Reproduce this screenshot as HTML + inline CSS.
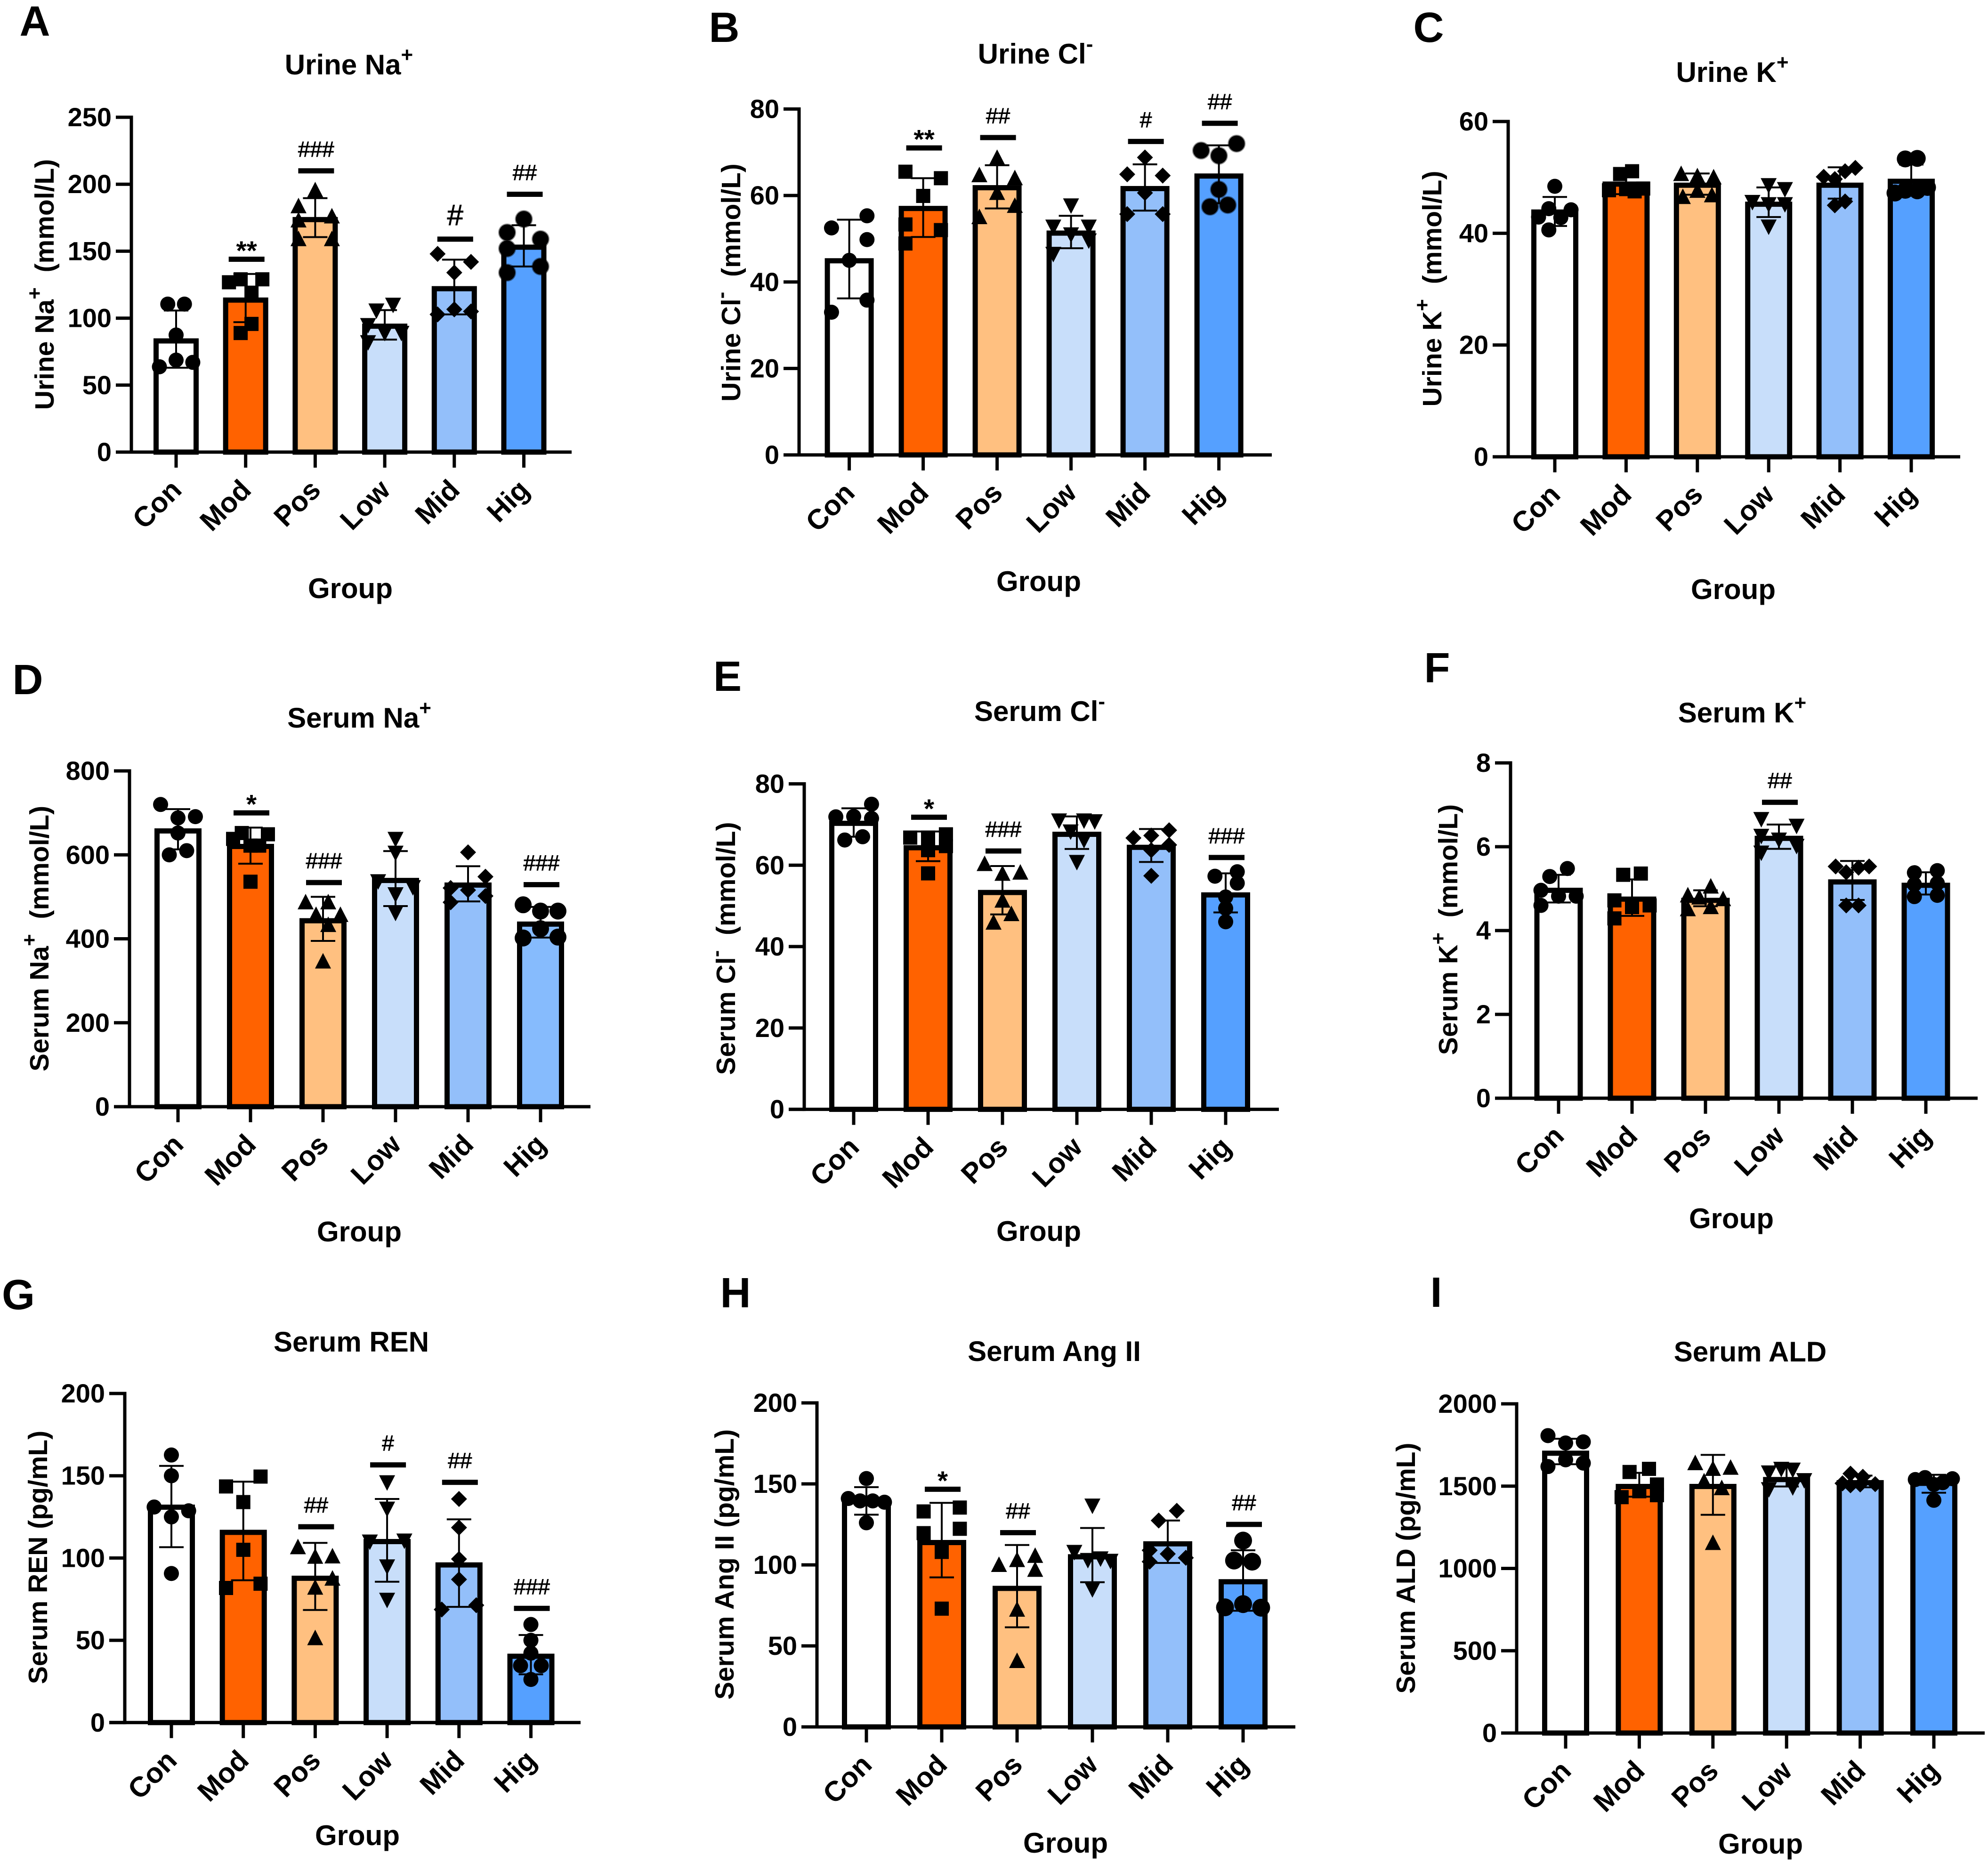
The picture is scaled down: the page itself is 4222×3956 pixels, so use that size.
<!DOCTYPE html>
<html lang="en">
<head>
<meta charset="utf-8">
<title>Urine and serum electrolyte and RAAS panels</title>
<style>
html,body{margin:0;padding:0;background:#fff}
svg{display:block}
text{font-family:"Liberation Sans",Arial,sans-serif;fill:#000;white-space:pre}
</style>
</head>
<body>
<svg id="figure" xmlns="http://www.w3.org/2000/svg" width="4222" height="3956" viewBox="0 0 4222 3956"></svg>
<script>
const categories = ['Con','Mod','Pos','Low','Mid','Hig'];

const urineNaTicks = [0,50,100,150,200,250];
const urineNaMeans = [83,113.5,173.6,94,122,153];
const urineNaUpper = [105.7,133,189.6,106,143.7,169.4];
const urineNaLower = [63,97,160.5,84,102.8,138.6];
const urineNaPoints = [[110.5,110.5,87.4,63.7,68.7,67],[126.8,129,129,119,95.7,88.9],[195.5,183.6,173,176,159,159],[105.7,110,94.8,89,89,82],[148,142,134,106.6,102.8,105],[174,164,159,152,134,138.6]];
const urineNaSlots = [[-1,1,0,-2,0,2],[-2,-0.6,2,0.7,0.7,-0.6],[0,-2,-2,2,-2,2],[-1,1,-2,0,2,-2],[-2,2,0,0,-2,2],[0,-2,2,-2,-2,2]];
const urineNaSig = [null,144,210,null,159,192.5];
const urineNaSigLabels = ['','**','###','','#','##'];

const urineClTicks = [0,20,40,60,80];
const urineClMeans = [44.9,57,61.8,51.3,61.6,64.5];
const urineClUpper = [54.4,64,67,55.3,67.2,71.6];
const urineClLower = [36.2,50.4,57,47.8,56.5,58.2];
const urineClPoints = [[52.5,55.3,49.8,45,35.8,33],[65.5,64,59.9,53.3,52,48.9],[68.7,64.7,64,60.6,57.6,55],[57.7,52.8,52.8,51,49.6,46.5],[68.8,64.9,64.6,60.6,55.7,55.7],[70.4,72,69.2,61.4,57.4,57.8]];
const urineClSlots = [[-2,2,2,0,2,-2],[-2,2,0,-2,2,-2],[0,-2,2,0,2,-2],[0,-2,2,0,2,-2],[0,-2,2,0,-2,2],[-2,2,0,0,-1,1]];
const urineClSig = [null,71,73.4,null,72.5,76.7];
const urineClSigLabels = ['','**','##','','#','##'];

const urineKTicks = [0,20,40,60];
const urineKMeans = [43.8,48.8,48.6,45.2,48.6,49.3];
const urineKUpper = [46.5,50.5,50.7,48.2,51.8,52.3];
const urineKLower = [41.3,47,46.9,42.9,46.2,47];
const urineKPoints = [[48.4,44.4,44.2,42.9,42.8,40.6],[50.6,51.1,47.7,47.9,48,47.5],[50.6,50.2,50,47.6,46.5,46.8],[48.6,47.9,45.6,45.2,45.2,41.2],[50.1,49.7,51.1,51.7,45,45.7],[53.3,53.4,47.2,48.2,47.7,47.6]];
const urineKSlots = [[0,-0.7,1.9,-1.9,0.7,-0.7],[-0.7,0.7,-2,0,2,1],[-1.9,0,1.9,0,-1.7,1.7],[0,1.9,-1.9,0,1.9,0],[-1.9,-0.6,0.6,1.8,-0.6,0.6],[-0.7,0.7,-1.9,1.9,-0.7,0.7]];

const serumNaTicks = [0,200,400,600,800];
const serumNaMeans = [657,620,443,539,528,435];
const serumNaUpper = [709,665,500,609,573,476];
const serumNaLower = [613,579,395,478,489,403];
const serumNaPoints = [[720,691,688,652,600,610],[638,652,649,622,622,536],[487,487,457,457,433,346],[638,605,537,523,506,462],[606,548,521,516,502,487],[481,466,466,424,402,404]];
const serumNaSlots = [[-2,2,0,0,-1,1],[-2,-1,2,0,1,0],[-2,0.6,-0.8,2,0.6,0],[0,0,-2,2,0,0],[0,2,-2,0,2,-2],[-2,0,2,0,-2,2]];
const serumNaSig = [null,700,534,null,null,529];
const serumNaSigLabels = ['','*','###','','','###'];

const serumClTicks = [0,20,40,60,80];
const serumClMeans = [70.3,64.3,53.3,67.6,64.4,52.7];
const serumClUpper = [74,68.3,59.8,72,68.9,58];
const serumClLower = [67,61,47.9,64,60.8,48.4];
const serumClPoints = [[75,71.9,72,71.5,66.2,67],[66.8,66.8,67.6,63.7,64.7,58],[60.3,58.2,57.9,51.3,48,45.9],[71,71,70.8,68.3,66.2,60.8],[68.6,66.7,67.3,65,63.7,57.4],[57.3,58.4,55.6,52.2,49.4,46.1]];
const serumClSlots = [[2,-2,0,2,-1,1],[-2,0,2,0,2,0],[-2,2,0,0,1,-1],[-2,0.8,2,-0.7,0.8,0],[2,-2,0,2,0,0],[-1.2,1.3,1.3,0,0,0]];
const serumClSig = [null,71.8,63.5,null,null,61.9];
const serumClSigLabels = ['','*','###','','','###'];

const serumKTicks = [0,2,4,6,8];
const serumKMeans = [4.96,4.75,4.72,6.2,5.16,5.08];
const serumKUpper = [5.33,5.22,4.96,6.53,5.66,5.39];
const serumKLower = [4.67,4.35,4.58,5.95,4.73,4.86];
const serumKPoints = [[5.48,5.29,4.96,4.82,4.82,4.6],[5.33,5.36,4.72,4.56,4.6,4.29],[4.84,5.05,4.79,4.75,4.51,4.56],[6.66,6.5,6.26,6.17,6.02,5.86],[5.53,5.53,5.5,5.39,4.6,4.6],[5.38,5.43,5.1,5.13,4.81,4.84]];
const serumKSlots = [[1,-1,-2,0,2,-2],[-1,1,-2,0,2,-2],[-2,0.6,-0.7,2,-2,0.6],[-2,2,-2,0,2,-2],[-1.9,1.9,0.7,-0.7,-0.7,0.7],[-1.3,1.3,-1.3,1.3,-1.3,1.3]];
const serumKSig = [null,null,null,7.06,null,null];
const serumKSigLabels = ['','','','##','',''];

const serumRenTicks = [0,50,100,150,200];
const serumRenMeans = [130.9,115.6,87.7,110,95.8,40.3];
const serumRenUpper = [156,146.4,109.2,135.9,123.5,53.2];
const serumRenLower = [106.6,86.5,68.4,85.6,70.3,29.3];
const serumRenPoints = [[162.6,150,131,128.7,125,90.6],[149.5,143.5,134,105,81.8,84.4],[106.6,101,100.8,87.5,82,51.3],[146,130,110,110.6,94.9,74.6],[135.9,118.5,99.4,87,68.7,71.3],[59.6,50,42.2,34.6,34.6,26.2]];
const serumRenSlots = [[0,0,-2,2,0,0],[2,-2,0,0,-2,2],[-2,2,0,2,0,0],[0,0,-2,2,0,0],[0,0,0,0,-2,2],[0,0,0,-1.2,1.2,0]];
const serumRenSig = [null,null,119,156.6,146,69.4];
const serumRenSigLabels = ['','','##','#','##','###'];

const serumAngTicks = [0,50,100,150,200];
const serumAngMeans = [139.5,113.8,85.5,105,113,89.6];
const serumAngUpper = [148,138.3,112.3,122.8,127.4,109];
const serumAngLower = [131,92.3,61.5,89.3,101.2,71.7];
const serumAngPoints = [[153.3,141,138.7,139.5,139.5,126],[133,135.4,122.3,119.6,108,73],[105.6,103,100,97,72.4,40.7],[136.6,108,103,104,102.5,85],[133.4,127.4,109,106.8,104.4,102],[115,102.7,102,73.8,75.8,73.6]];
const serumAngSlots = [[0,-2,2,-0.7,0.7,0],[-2,2,2,-2,0,0],[2,0,-2,2,0,0],[0,-2,-0.5,0.9,2,0],[1,-1,-2,0,2,-2],[0,-1,1,-2,0,2]];
const serumAngSig = [null,146.7,119.9,null,null,125];
const serumAngSigLabels = ['','*','##','','','##'];

const serumAldTicks = [0,500,1000,1500,2000];
const serumAldMeans = [1700,1498,1498,1540,1521,1517];
const serumAldUpper = [1788,1581,1690,1631,1564,1569];
const serumAldLower = [1633,1436,1326,1498,1493,1460];
const serumAldPoints = [[1807,1769,1762,1619,1660,1640],[1586,1605,1510,1469,1433,1445],[1640,1612,1605,1529,1488,1155],[1583,1605,1600,1536,1493,1481],[1576,1557,1517,1512,1510,1505],[1540,1552,1545,1521,1510,1414]];
const serumAldSlots = [[-2,2,0,-2,0,2],[-1.1,1.1,2,0,-2,2],[-2,2,0,-1,1,0],[-2,-0.6,0.7,2,0.7,-2],[-1.1,0.3,-2,1.7,0,-1.1],[-2.1,-1,2.1,1,0,0]];

const barColors = ['#FFFFFF','#FF6200','#FFC080','#C8DEFA','#93BFFA','#55A0FF'];
const lightHigColors = ['#FFFFFF','#FF6200','#FFC080','#C8DEFA','#93BFFA','#86BBFD'];
const symbolKinds = ['circle','square','up','down','diamond','circle'];

const panels = [
 {key:'urine-na',letter:'A',lx:74,ly:76,title:['Urine Na','+',''],tx:741,ty:158,yTitle:['Urine Na','+','  (mmol/L)'],ytx:114,yty:604,gx:744,gy:1270,ax:279,y0:960,top:249,first:374,step:147.7,barW:96,end:1214,max:250,ticks:urineNaTicks,means:urineNaMeans,upper:urineNaUpper,lower:urineNaLower,points:urineNaPoints,slots:urineNaSlots,sig:urineNaSig,sigLabels:urineNaSigLabels,colors:barColors,higR:17,halo:true,singleHash:62},
 {key:'urine-cl',letter:'B',lx:1538,ly:89,title:['Urine Cl','-',''],tx:2199,ty:135,yTitle:['Urine Cl','-','  (mmol/L)'],ytx:1572,yty:600,gx:2206,gy:1255,ax:1697,y0:966,top:231.5,first:1803.6,step:157,barW:104,end:2701,max:80,ticks:urineClTicks,means:urineClMeans,upper:urineClUpper,lower:urineClLower,points:urineClPoints,slots:urineClSlots,sig:urineClSig,sigLabels:urineClSigLabels,colors:barColors,higR:17,halo:true,singleHash:46},
 {key:'urine-k',letter:'C',lx:3034,ly:89,title:['Urine K','+',''],tx:3679,ty:174,yTitle:['Urine K','+','  (mmol/L)'],ytx:3061,yty:613,gx:3681,gy:1272,ax:3203,y0:970,top:258,first:3302,step:151.4,barW:100,end:4163,max:60,ticks:urineKTicks,means:urineKMeans,upper:urineKUpper,lower:urineKLower,points:urineKPoints,slots:urineKSlots,sig:null,sigLabels:null,colors:barColors,higR:18,halo:false,singleHash:46},
 {key:'serum-na',letter:'D',lx:59,ly:1474,title:['Serum Na','+',''],tx:763,ty:1545,yTitle:['Serum Na','+','  (mmol/L)'],ytx:103,yty:1993,gx:763,gy:2636,ax:275,y0:2350,top:1637,first:378,step:154,barW:100,end:1254,max:800,ticks:serumNaTicks,means:serumNaMeans,upper:serumNaUpper,lower:serumNaLower,points:serumNaPoints,slots:serumNaSlots,sig:serumNaSig,sigLabels:serumNaSigLabels,colors:lightHigColors,higR:18,halo:false,singleHash:46},
 {key:'serum-cl',letter:'E',lx:1545,ly:1467,title:['Serum Cl','-',''],tx:2208,ty:1531,yTitle:['Serum Cl','-','  (mmol/L)'],ytx:1561,yty:2014,gx:2206,gy:2635,ax:1708,y0:2355.6,top:1664.5,first:1813,step:158,barW:104,end:2716,max:80,ticks:serumClTicks,means:serumClMeans,upper:serumClUpper,lower:serumClLower,points:serumClPoints,slots:serumClSlots,sig:serumClSig,sigLabels:serumClSigLabels,colors:barColors,higR:16,halo:false,singleHash:46},
 {key:'serum-k',letter:'F',lx:3052,ly:1449,title:['Serum K','+',''],tx:3700,ty:1534,yTitle:['Serum K','+','  (mmol/L)'],ytx:3095,yty:1974,gx:3677,gy:2608,ax:3208,y0:2332,top:1620,first:3310,step:156,barW:103,end:4200,max:8,ticks:serumKTicks,means:serumKMeans,upper:serumKUpper,lower:serumKLower,points:serumKPoints,slots:serumKSlots,sig:serumKSig,sigLabels:serumKSigLabels,colors:barColors,higR:16,halo:false,singleHash:46},
 {key:'serum-ren',letter:'G',lx:39,ly:2780,title:['Serum REN','',''],tx:746,ty:2870,yTitle:['Serum REN (pg/mL)','',''],ytx:100,yty:3307,gx:759,gy:3918,ax:265,y0:3657.8,top:2959,first:364,step:152.7,barW:100,end:1233,max:200,ticks:serumRenTicks,means:serumRenMeans,upper:serumRenUpper,lower:serumRenLower,points:serumRenPoints,slots:serumRenSlots,sig:serumRenSig,sigLabels:serumRenSigLabels,colors:barColors,higR:16,halo:false,singleHash:46},
 {key:'serum-ang',letter:'H',lx:1562,ly:2776,title:['Serum Ang II','',''],tx:2239,ty:2890,yTitle:['Serum Ang II (pg/mL)','',''],ytx:1558,yty:3322,gx:2263,gy:3934,ax:1735,y0:3667,top:2979,first:1840,step:160,barW:104,end:2751,max:200,ticks:serumAngTicks,means:serumAngMeans,upper:serumAngUpper,lower:serumAngLower,points:serumAngPoints,slots:serumAngSlots,sig:serumAngSig,sigLabels:serumAngSigLabels,colors:barColors,higR:19,halo:false,singleHash:46},
 {key:'serum-ald',letter:'I',lx:3050,ly:2775,title:['Serum ALD','',''],tx:3717,ty:2891,yTitle:['Serum ALD (pg/mL)','',''],ytx:3005,yty:3330,gx:3739,gy:3936,ax:3221,y0:3680,top:2981,first:3325,step:156.4,barW:100,end:4215,max:2000,ticks:serumAldTicks,means:serumAldMeans,upper:serumAldUpper,lower:serumAldLower,points:serumAldPoints,slots:serumAldSlots,sig:null,sigLabels:null,colors:barColors,higR:16,halo:false,singleHash:46}
];

const NS = 'http://www.w3.org/2000/svg';
const figure = document.getElementById('figure');

function mk(tag, name, attrs, parent) {
  const el = document.createElementNS(NS, tag);
  
  
  for (const k in attrs) el.setAttribute(k, attrs[k]);
  (parent || figure).appendChild(el);
  return el;
}

function line(name, x1, y1, x2, y2, w, parent) {
  return mk('line', name, {x1:x1, y1:y1, x2:x2, y2:y2, stroke:'#000', 'stroke-width':w}, parent);
}

function richText(name, parts, attrs, supSize, supRise, parent) {
  const t = mk('text', name, attrs, parent);
  const a = document.createElementNS(NS, 'tspan');
  a.textContent = parts[0];
  t.appendChild(a);
  if (parts[1]) {
    const s = document.createElementNS(NS, 'tspan');
    s.setAttribute('dy', -supRise);
    s.setAttribute('font-size', supSize);
    s.textContent = parts[1];
    t.appendChild(s);
    if (parts[2]) {
      const r = document.createElementNS(NS, 'tspan');
      r.setAttribute('dy', supRise);
      r.textContent = parts[2];
      t.appendChild(r);
    }
  }
  return t;
}

function drawSymbol(kind, x, y, r, group, halo) {
  const extra = halo ? {stroke:'rgba(0,0,0,0.45)', 'stroke-width':4} : {};
  if (kind === 'circle') {
    mk('circle', 'data-point', Object.assign({cx:x, cy:y, r:r, fill:'#000'}, extra), group);
  } else if (kind === 'square') {
    mk('rect', 'data-point', {x:x-15, y:y-15, width:30, height:30, fill:'#000'}, group);
  } else if (kind === 'up') {
    mk('polygon', 'data-point', {points:(x-17)+','+(y+15)+' '+(x+17)+','+(y+15)+' '+x+','+(y-18), fill:'#000'}, group);
  } else if (kind === 'down') {
    mk('polygon', 'data-point', {points:(x-17)+','+(y-15)+' '+(x+17)+','+(y-15)+' '+x+','+(y+18), fill:'#000'}, group);
  } else {
    mk('polygon', 'data-point', {points:(x-17)+','+y+' '+x+','+(y-17)+' '+(x+17)+','+y+' '+x+','+(y+17), fill:'#000'}, group);
  }
}

function drawPanel(p) {
  const g = mk('g', p.key + '-panel', {});
  const yScale = v => p.y0 - (v / p.max) * (p.y0 - p.top);
  const xScale = i => p.first + i * p.step;
  const jitter = p.step * 0.12;

  mk('text', 'panel-letter-' + p.letter, {x:p.lx, y:p.ly, 'font-size':90, 'font-weight':'bold', 'text-anchor':'middle'}, g).textContent = p.letter;
  richText(p.key + '-title', p.title, {x:p.tx, y:p.ty, 'font-size':60, 'font-weight':'bold', 'text-anchor':'middle'}, 44, 27, g);
  richText('y-axis-title', p.yTitle, {transform:'translate(' + p.ytx + ',' + p.yty + ') rotate(-90)', 'font-size':57, 'font-weight':'bold', 'text-anchor':'middle'}, 44, 26, g);
  const gt = mk('text', 'x-axis-title', {x:p.gx, y:p.gy, 'font-size':60, 'font-weight':'bold', 'text-anchor':'middle'}, g);
  gt.textContent = 'Group';

  categories.forEach((c, i) => {
    const inner = p.barW - 11;
    const bx = xScale(i) - inner / 2;
    const by = yScale(p.means[i]);
    mk('rect', 'bar-' + c.toLowerCase(), {x:bx, y:by, width:inner, height:p.y0 - by, fill:p.colors[i], stroke:'#000', 'stroke-width':11}, g);
  });

  categories.forEach((c, i) => {
    const cx = xScale(i);
    const hi = yScale(p.upper[i]);
    const lo = yScale(p.lower[i]);
    line('error-bar-' + c.toLowerCase(), cx, hi, cx, lo, 4, g);
    line('error-cap-upper', cx - 26, hi, cx + 26, hi, 4, g);
    line('error-cap-lower', cx - 26, lo, cx + 26, lo, 4, g);
    const pg = mk('g', 'points-' + c.toLowerCase(), {}, g);
    p.points[i].forEach((v, j) => {
      const isHig = i === 5;
      drawSymbol(symbolKinds[i], cx + p.slots[i][j] * jitter, yScale(v), isHig ? p.higR : 16, pg, isHig && p.halo);
    });
  });

  line('y-axis-line', p.ax, p.top - 3.5, p.ax, p.y0 + 3.5, 7, g);
  line('x-axis-line', p.ax - 33, p.y0, p.end, p.y0, 7, g);

  p.ticks.forEach(t => {
    const y = yScale(t);
    line('y-tick', p.ax - 33, y, p.ax, y, 7, g);
    const lab = mk('text', 'y-tick-label', {x:p.ax - 42, y:y + 19, 'font-size':56, 'font-weight':'bold', 'text-anchor':'end'}, g);
    lab.textContent = String(t);
  });

  categories.forEach((c, i) => {
    const cx = xScale(i);
    line('x-tick', cx, p.y0, cx, p.y0 + 33, 7, g);
    const tx = cx + 15;
    const ty = p.y0 + 84;
    const lab = mk('text', 'x-tick-label-' + c.toLowerCase(), {transform:'translate(' + tx + ',' + ty + ') rotate(-45)', 'font-size':60, 'font-weight':'bold', 'text-anchor':'end'}, g);
    lab.textContent = c;
  });

  if (p.sig) {
    p.sig.forEach((v, i) => {
      if (v === null) return;
      const cx = xScale(i) + 2;
      const y = yScale(v);
      mk('rect', 'significance-bar', {x:cx - 38, y:y - 5.5, width:76, height:11, fill:'#000'}, g);
      const label = p.sigLabels[i];
      const star = label.charAt(0) === '*';
      const size = star ? 57 : (label === '#' ? p.singleHash : 46);
      const sigText = mk('text', 'significance-label', {x:cx, y:star ? y + 1 : y - 30, 'font-size':size, 'font-weight':star ? 'bold' : 'normal', 'text-anchor':'middle', stroke:'#000', 'stroke-width':star ? 0 : 0.9}, g);
      sigText.textContent = label;
    });
  }
}

panels.forEach(drawPanel);
</script>
</body>
</html>
